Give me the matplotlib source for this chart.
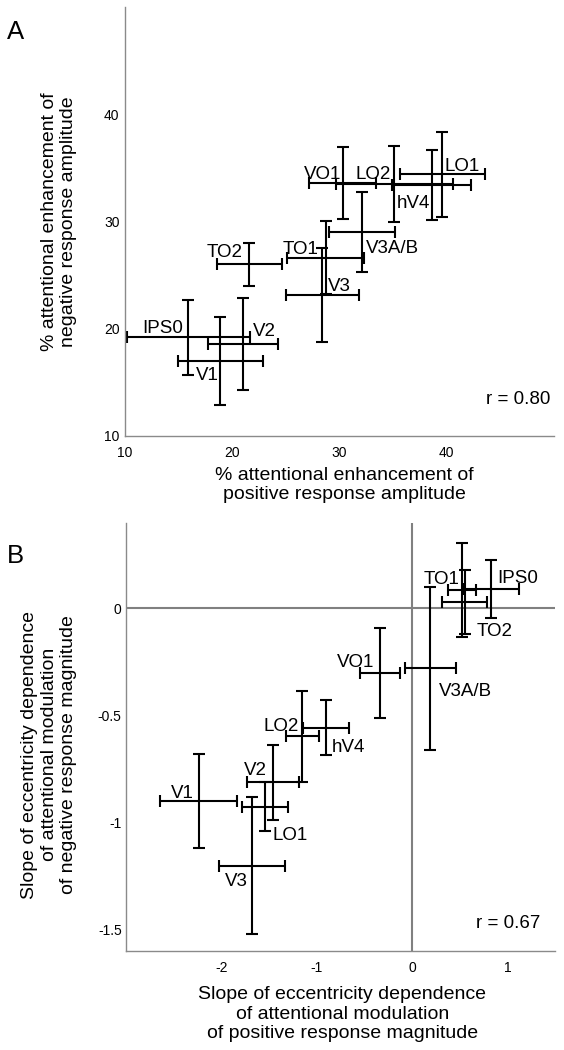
import matplotlib
matplotlib.use("Agg")
import matplotlib.pyplot as plt
from matplotlib.transforms import offset_copy

plt.rcParams["font.family"] = ["Liberation Sans", "DejaVu Sans"]
plt.rcParams["axes.unicode_minus"] = False

# Panel A: % attentional enhancement (positive vs negative response amplitude)
areas_a = ["IPS0", "V1", "V2", "TO2", "TO1", "V3", "V3A/B", "VO1", "LO2", "hV4", "LO1"]
pos_a = [15.9, 18.9, 21.0, 21.6, 28.7, 28.4, 32.1, 30.3, 35.1, 38.6, 39.6]
pos_err_a = [5.75, 4.0, 3.25, 3.05, 3.6, 3.4, 3.05, 3.15, 5.45, 3.7, 4.0]
neg_a = [19.2, 17.0, 18.6, 26.0, 26.6, 23.15, 29.0, 33.6, 33.5, 33.4, 34.4]
neg_err_a = [3.5, 4.1, 4.3, 2.0, 3.4, 4.35, 3.7, 3.35, 3.55, 3.3, 3.95]
# label anchor (left x, vertical centre y) in data units
label_x_a = [11.6, 16.6, 21.9, 17.6, 24.7, 28.9, 32.5, 26.7, 31.5, 35.3, 39.8]
label_y_a = [20.26, 15.85, 19.9, 27.3, 27.6, 24.1, 27.65, 34.55, 34.55, 31.9, 35.3]

# Panel B: slope of eccentricity dependence
areas_b = ["V1", "V2", "LO1", "V3", "LO2", "hV4", "VO1", "V3A/B", "TO1", "TO2", "IPS0"]
pos_b = [-2.24, -1.456, -1.545, -1.682, -1.153, -0.90, -0.34, 0.19, 0.524, 0.552, 0.826]
pos_err_b = [0.407, 0.274, 0.24, 0.347, 0.175, 0.24, 0.208, 0.267, 0.151, 0.239, 0.295]
neg_b = [-0.898, -0.813, -0.927, -1.201, -0.597, -0.558, -0.303, -0.28, 0.086, 0.030, 0.091]
neg_err_b = [0.22, 0.175, 0.114, 0.32, 0.212, 0.129, 0.21, 0.382, 0.218, 0.150, 0.136]
label_x_b = [-2.534, -1.762, -1.466, -1.964, -1.559, -0.847, -0.785, 0.28, 0.12, 0.68, 0.89]
label_y_b = [-0.854, -0.748, -1.049, -1.265, -0.540, -0.638, -0.242, -0.377, 0.145, -0.10, 0.15]

LABEL_FS = 13.5
AXIS_FS = 14
TICK_FS = 10
GRAY = "#8a8a8a"


def draw_bars(ax, x, xerr, y, yerr):
    ax.errorbar(x, y, xerr=xerr, yerr=yerr, fmt="none", ecolor="black",
                elinewidth=1.5, capsize=4.6, capthick=1.5)


def draw_labels(fig, ax, names, xs, ys):
    # shift so that the given y is the visual centre of the capitals
    tr = offset_copy(ax.transData, fig=fig, y=-0.358 * LABEL_FS, units="points")
    for name, x, y in zip(names, xs, ys):
        ax.text(x, y, name, transform=tr, ha="left", va="baseline",
                fontsize=LABEL_FS, color="black")


def style_axes(ax, ypad):
    for side in ["top", "right"]:
        ax.spines[side].set_visible(False)
    for side in ["left", "bottom"]:
        ax.spines[side].set_color(GRAY)
        ax.spines[side].set_linewidth(1.0)
    ax.tick_params(axis="both", length=0, labelsize=TICK_FS, colors="black")
    ax.tick_params(axis="x", pad=7.5)
    ax.tick_params(axis="y", pad=ypad)


fig = plt.figure(figsize=(5.64, 10.5), dpi=100)

# ---- Panel A ----
ax_a = fig.add_axes([0.2216, 0.5848, 0.7606, 0.4086])
draw_bars(ax_a, pos_a, pos_err_a, neg_a, neg_err_a)
draw_labels(fig, ax_a, areas_a, label_x_a, label_y_a)
ax_a.set_xlim(10, 50)
ax_a.set_ylim(10, 50)
ax_a.set_xticks([10, 20, 30, 40])
ax_a.set_yticks([10, 20, 30, 40])
style_axes(ax_a, 4.0)
ax_a.set_xlabel("% attentional enhancement of\npositive response amplitude", fontsize=AXIS_FS)
ax_a.set_ylabel("% attentional enhancement of\nnegative response amplitude", fontsize=AXIS_FS)
ax_a.xaxis.set_label_coords(0.512, -0.072)
ax_a.yaxis.set_label_coords(-0.111, 0.5)
ax_a.text(0.992, 0.084, "r = 0.80", transform=ax_a.transAxes, ha="right", va="center",
          fontsize=LABEL_FS)
fig.text(7 / 564, 1 - 32.3 / 1050, "A", ha="left", va="center", fontsize=18.5)

# ---- Panel B ----
ax_b = fig.add_axes([0.2239, 0.0943, 0.7601, 0.4079])
ax_b.axhline(0, color="#808080", lw=1.5, zorder=1)
ax_b.axvline(0, color="#808080", lw=1.5, zorder=1)
draw_bars(ax_b, pos_b, pos_err_b, neg_b, neg_err_b)
draw_labels(fig, ax_b, areas_b, label_x_b, label_y_b)
ax_b.set_xlim(-3, 1.5)
ax_b.set_ylim(-1.6, 0.4)
ax_b.set_xticks([-2, -1, 0, 1])
ax_b.set_xticklabels(["-2", "-1", "0", "1"])
ax_b.set_yticks([0, -0.5, -1, -1.5])
ax_b.set_yticklabels(["0", "-0.5", "-1", "-1.5"])
style_axes(ax_b, 3.3)
ax_b.set_xlabel("Slope of eccentricity dependence\nof attentional modulation\n"
                "of positive response magnitude", fontsize=AXIS_FS)
ax_b.set_ylabel("Slope of eccentricity dependence\nof attentional modulation\n"
                "of negative response magnitude", fontsize=AXIS_FS)
ax_b.xaxis.set_label_coords(0.504, -0.0817)
ax_b.yaxis.set_label_coords(-0.114, 0.458)
ax_b.text(0.967, 0.0647, "r = 0.67", transform=ax_b.transAxes, ha="right", va="center",
          fontsize=LABEL_FS)
fig.text(7 / 564, 1 - 555.9 / 1050, "B", ha="left", va="center", fontsize=18.5)

fig.savefig("out.png", dpi=100)
